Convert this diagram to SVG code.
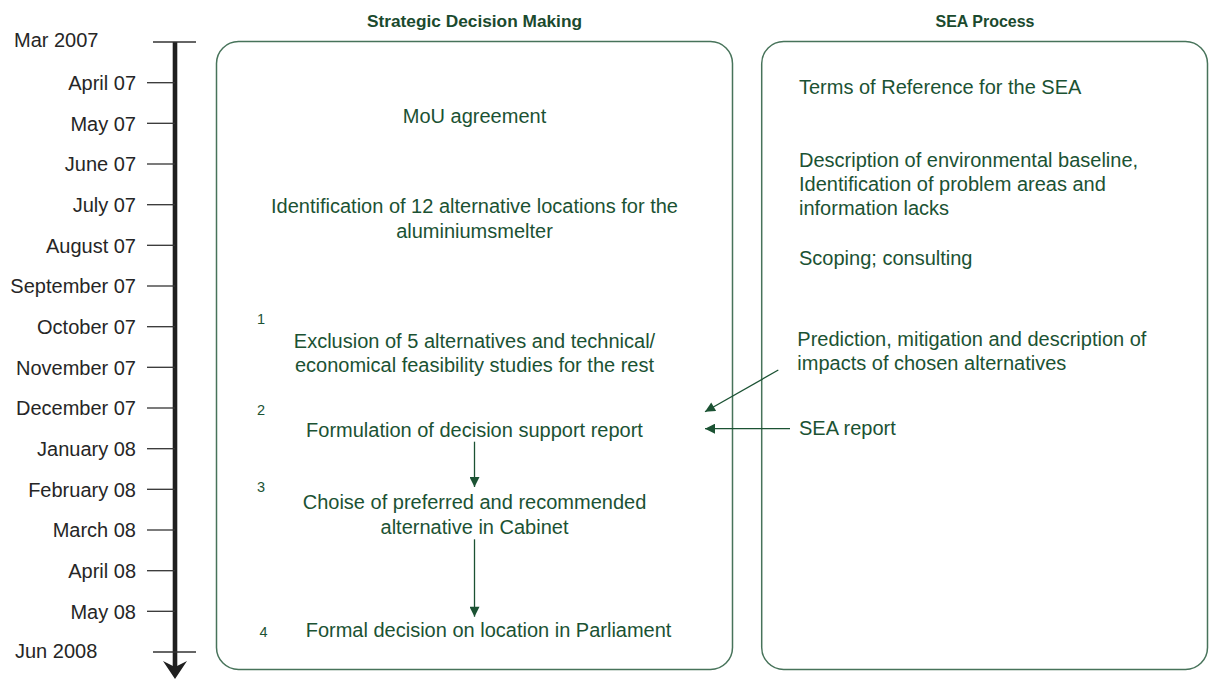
<svg xmlns="http://www.w3.org/2000/svg" width="1210" height="679" viewBox="0 0 1210 679">
<style>
.tl{font-family:"Liberation Sans",Arial,sans-serif;font-size:20px;fill:#262626;text-anchor:end}
.tk{stroke:#333;stroke-width:1.3}
.hd{font-family:"Liberation Sans",Arial,sans-serif;font-size:16.5px;font-weight:bold;fill:#1b4a2e;text-anchor:middle}
.bx{fill:none;stroke:#47735a;stroke-width:1.5}
.t{font-family:"Liberation Sans",Arial,sans-serif;font-size:20px;fill:#1b5233}
.c{text-anchor:middle}
.n{font-family:"Liberation Sans",Arial,sans-serif;font-size:14.5px;fill:#1b5233;text-anchor:middle}
.ar{stroke:#1b5233;stroke-width:1.3;fill:none;marker-end:url(#ah)}
</style>
<defs>
<marker id="ah" viewBox="0 0 10 10" refX="10" refY="5" markerWidth="11" markerHeight="10" markerUnits="userSpaceOnUse" orient="auto">
<path d="M0,0 L10,5 L0,10 z" fill="#1b5233"/>
</marker>
</defs>

<g id="timeline">
<line x1="175" y1="42" x2="175" y2="667" stroke="#1f1f1f" stroke-width="4.6"/>
<polygon points="163,661 175,667 187,661 175,679" fill="#1f1f1f"/>
<line class="tk" x1="153" y1="42" x2="196" y2="42"/>
<line class="tk" x1="153" y1="652" x2="196" y2="652"/>
<text x="14" y="47.3" style="font-family:'Liberation Sans',Arial,sans-serif;font-size:20px;fill:#262626">Mar 2007</text>
<text x="15" y="658.3" style="font-family:'Liberation Sans',Arial,sans-serif;font-size:20px;fill:#262626">Jun 2008</text>
<line class="tk" x1="147" y1="82.7" x2="175" y2="82.7"/><text class="tl" x="136" y="90">April 07</text>
<line class="tk" x1="147" y1="123.3" x2="175" y2="123.3"/><text class="tl" x="136" y="130.6">May 07</text>
<line class="tk" x1="147" y1="164" x2="175" y2="164"/><text class="tl" x="136" y="171.3">June 07</text>
<line class="tk" x1="147" y1="204.7" x2="175" y2="204.7"/><text class="tl" x="136" y="212">July 07</text>
<line class="tk" x1="147" y1="245.3" x2="175" y2="245.3"/><text class="tl" x="136" y="252.6">August 07</text>
<line class="tk" x1="147" y1="286" x2="175" y2="286"/><text class="tl" x="136" y="293.3">September 07</text>
<line class="tk" x1="147" y1="326.7" x2="175" y2="326.7"/><text class="tl" x="136" y="334">October 07</text>
<line class="tk" x1="147" y1="367.3" x2="175" y2="367.3"/><text class="tl" x="136" y="374.6">November 07</text>
<line class="tk" x1="147" y1="408" x2="175" y2="408"/><text class="tl" x="136" y="415.3">December 07</text>
<line class="tk" x1="147" y1="448.7" x2="175" y2="448.7"/><text class="tl" x="136" y="456">January 08</text>
<line class="tk" x1="147" y1="489.3" x2="175" y2="489.3"/><text class="tl" x="136" y="496.6">February 08</text>
<line class="tk" x1="147" y1="530" x2="175" y2="530"/><text class="tl" x="136" y="537.3">March 08</text>
<line class="tk" x1="147" y1="570.7" x2="175" y2="570.7"/><text class="tl" x="136" y="578">April 08</text>
<line class="tk" x1="147" y1="611.3" x2="175" y2="611.3"/><text class="tl" x="136" y="618.6">May 08</text>
</g>

<g id="sdm">
<text class="hd" x="474.5" y="27" textLength="215" lengthAdjust="spacingAndGlyphs">Strategic Decision Making</text>
<rect class="bx" x="216.5" y="41.5" width="516" height="628" rx="22"/>
<text class="t c" x="474.5" y="122.5">MoU agreement</text>
<text class="t c" x="474.5" y="213">Identification of 12 alternative locations for the</text>
<text class="t c" x="474.5" y="237.5">aluminiumsmelter</text>
<text class="n" x="261" y="324">1</text>
<text class="t c" x="474.5" y="347.7">Exclusion of 5 alternatives and technical/</text>
<text class="t c" x="474.5" y="371.7">economical feasibility studies for the rest</text>
<text class="n" x="261" y="415">2</text>
<text class="t c" x="474.5" y="436.7">Formulation of decision support report</text>
<text class="n" x="261" y="492">3</text>
<text class="t c" x="474.5" y="509">Choise of preferred and recommended</text>
<text class="t c" x="474.5" y="533.5">alternative in Cabinet</text>
<text class="n" x="263.5" y="636.5">4</text>
<text class="t" x="305.7" y="636.7">Formal decision on location in Parliament</text>
</g>

<g id="sea">
<text class="hd" x="985" y="27" textLength="99" lengthAdjust="spacingAndGlyphs">SEA Process</text>
<rect class="bx" x="761.7" y="41.5" width="445.8" height="628" rx="22"/>
<text class="t" x="799" y="94">Terms of Reference for the SEA</text>
<text class="t" x="799" y="166.7">Description of environmental baseline,</text>
<text class="t" x="799" y="190.7">Identification of problem areas and</text>
<text class="t" x="799" y="214.5">information lacks</text>
<text class="t" x="799" y="265">Scoping; consulting</text>
<text class="t" x="797.3" y="345.7">Prediction, mitigation and description of</text>
<text class="t" x="797.3" y="370">impacts of chosen alternatives</text>
<text class="t" x="799" y="434.5">SEA report</text>
</g>

<g id="connectors">
<line class="ar" x1="778.3" y1="370" x2="705" y2="411.7"/>
<line class="ar" x1="790" y1="428.7" x2="705" y2="428.7"/>
<line class="ar" x1="474.5" y1="441.7" x2="474.5" y2="487"/>
<line class="ar" x1="474.5" y1="539.3" x2="474.5" y2="616.7"/>
</g>
</svg>
